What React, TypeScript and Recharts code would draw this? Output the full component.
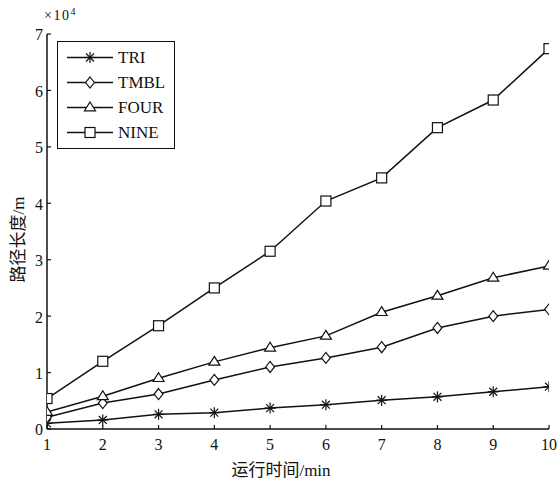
import React from 'react';
import { LineChart, Line, XAxis, YAxis, Legend } from 'recharts';

const times = [1, 2, 3, 4, 5, 6, 7, 8, 9, 10];
const tri = [1000, 1600, 2600, 2900, 3700, 4300, 5100, 5700, 6600, 7500];
const tmbl = [2100, 4600, 6200, 8700, 11000, 12600, 14500, 17900, 20000, 21200];
const four = [3000, 5800, 9000, 11900, 14400, 16500, 20700, 23600, 26800, 28900];
const nine = [5400, 12000, 18300, 25000, 31500, 40400, 44500, 53400, 58300, 67400];
const xTicks = [1, 2, 3, 4, 5, 6, 7, 8, 9, 10];
const yTicks = [0, 10000, 20000, 30000, 40000, 50000, 60000, 70000];
const yScaleLabel = '×10';
const yScaleExp = '4';

const data = times.map((t, i) => ({ t, TRI: tri[i], TMBL: tmbl[i], FOUR: four[i], NINE: nine[i] }));

const SERIF = '"Liberation Serif", "Times New Roman", serif';
const CJK = '"Liberation Serif", "Noto Sans CJK SC", serif';
const INK = '#111';
const X_MARGIN = 10;
const Y_MARGIN = 4;
const TICK_LEN = 4;

type MarkerKind = 'star' | 'diamond' | 'triangle' | 'square';

function Marker({ kind, cx, cy }: { kind: MarkerKind; cx: number; cy: number }) {
  const common = { stroke: INK, strokeWidth: 1.2, fill: 'none' };
  if (kind === 'star') {
    const r = 5.5;
    const d = r * 0.72;
    return (
      <g {...common}>
        <line x1={cx - r} y1={cy} x2={cx + r} y2={cy} />
        <line x1={cx} y1={cy - r} x2={cx} y2={cy + r} />
        <line x1={cx - d} y1={cy - d} x2={cx + d} y2={cy + d} />
        <line x1={cx - d} y1={cy + d} x2={cx + d} y2={cy - d} />
      </g>
    );
  }
  if (kind === 'diamond') {
    const r = 5.5;
    return <polygon {...common} fill="#fff" points={`${cx},${cy - r} ${cx + r * 0.8},${cy} ${cx},${cy + r} ${cx - r * 0.8},${cy}`} />;
  }
  if (kind === 'triangle') {
    const r = 5.5;
    return <polygon {...common} fill="#fff" points={`${cx},${cy - r} ${cx + r},${cy + r * 0.6} ${cx - r},${cy + r * 0.6}`} />;
  }
  const s = 5;
  return <rect {...common} fill="#fff" x={cx - s} y={cy - s} width={2 * s} height={2 * s} />;
}

const makeDot = (kind: MarkerKind) => (props: any) => {
  const { cx, cy, index } = props;
  if (cx == null || cy == null) return <g key={`${kind}-${index}`} />;
  return (
    <g key={`${kind}-${index}`}>
      <Marker kind={kind} cx={cx} cy={cy} />
    </g>
  );
};

const series: { key: string; kind: MarkerKind }[] = [
  { key: 'TRI', kind: 'star' },
  { key: 'TMBL', kind: 'diamond' },
  { key: 'FOUR', kind: 'triangle' },
  { key: 'NINE', kind: 'square' },
];

function XTick(props: any) {
  const { x, y, payload } = props;
  const axisY = y - X_MARGIN;
  return (
    <g>
      <line x1={x} x2={x} y1={axisY} y2={axisY - TICK_LEN} stroke={INK} strokeWidth={1.2} />
      <text x={x} y={y} dy="0.71em" textAnchor="middle" fontFamily={SERIF} fontSize={16} fill={INK}>
        {payload.value}
      </text>
    </g>
  );
}

function YTick(props: any) {
  const { x, y, payload, index } = props;
  const axisX = x + Y_MARGIN;
  const isTop = payload.value === yTicks[yTicks.length - 1];
  return (
    <g>
      <line x1={axisX} x2={axisX + TICK_LEN} y1={y} y2={y} stroke={INK} strokeWidth={1.2} />
      <text x={x} y={y} dy="0.4em" textAnchor="end" fontFamily={SERIF} fontSize={16} fill={INK}>
        {String(payload.value / 10000)}
      </text>
      {isTop ? (
        <text key={`s${index}`} x={axisX - 3} y={y - 14} fontFamily={SERIF} fontSize={14} letterSpacing={1.5} fill={INK}>
          {yScaleLabel}
          <tspan dy={-5} fontSize={10}>{yScaleExp}</tspan>
        </text>
      ) : null}
    </g>
  );
}

function LegendBox() {
  return (
    <div
      style={{
        width: 116,
        height: 103,
        border: `1.5px solid ${INK}`,
        background: '#fff',
        paddingTop: 3,
        boxSizing: 'content-box',
      }}
    >
      {series.map((s) => (
        <div key={s.key} style={{ display: 'flex', alignItems: 'center', height: 25 }}>
          <svg width={60} height={25} style={{ display: 'block' }}>
            <line x1={9} x2={55} y1={12.5} y2={12.5} stroke={INK} strokeWidth={1.5} />
            <Marker kind={s.kind} cx={32} cy={12.5} />
          </svg>
          <span style={{ fontFamily: SERIF, fontSize: 17, color: INK, marginLeft: 0, lineHeight: '25px' }}>{s.key}</span>
        </div>
      ))}
    </div>
  );
}

export default function App() {
  return (
    <div style={{ position: 'absolute', left: 0, top: 0, width: 558, height: 479, background: '#fff' }}>
      <LineChart width={558} height={479} data={data} margin={{ top: 34, right: 9, bottom: 20, left: 7 }}>
        <XAxis
          dataKey="t"
          type="number"
          domain={[1, 10]}
          ticks={xTicks}
          interval={0}
          allowDataOverflow
          height={30}
          tickSize={0}
          tickMargin={X_MARGIN}
          axisLine={{ stroke: INK, strokeWidth: 1.5 }}
          tickLine={false}
          tick={<XTick />}
          label={{
            content: (p: any) => {
              const vb = p.viewBox || {};
              return (
                <text x={vb.x + vb.width / 2 - 17} y={vb.y + 47} textAnchor="middle" fontFamily={CJK} fontSize={17} fill={INK}>
                  运行时间/min
                </text>
              );
            },
          }}
        />
        <XAxis
          xAxisId="top"
          dataKey="t"
          type="number"
          domain={[1, 10]}
          orientation="top"
          height={0}
          tick={false}
          tickLine={false}
          axisLine={{ stroke: INK, strokeWidth: 1.5 }}
        />
        <YAxis
          type="number"
          domain={[0, 70000]}
          ticks={yTicks}
          width={40}
          tickSize={0}
          tickMargin={Y_MARGIN}
          interval={0}
          axisLine={{ stroke: INK, strokeWidth: 1.5 }}
          tickLine={false}
          tick={<YTick />}
          label={{
            content: (p: any) => {
              const vb = p.viewBox || {};
              const cx = vb.x + 11;
              const cy = vb.y + vb.height / 2 + 8;
              return (
                <text x={cx} y={cy} transform={`rotate(-90 ${cx} ${cy})`} textAnchor="middle" dominantBaseline="central" fontFamily={CJK} fontSize={17} fill={INK}>
                  路径长度/m
                </text>
              );
            },
          }}
        />
        <YAxis
          yAxisId="right"
          orientation="right"
          type="number"
          domain={[0, 70000]}
          width={0}
          tick={false}
          tickLine={false}
          axisLine={{ stroke: INK, strokeWidth: 1.5 }}
        />
        <Legend
          layout="vertical"
          align="center"
          verticalAlign="middle"
          content={() => <LegendBox />}
          wrapperStyle={{ left: 57, top: 41, width: 'auto', height: 'auto' }}
        />
        {series.map((s) => (
          <Line
            key={s.key}
            dataKey={s.key}
            type="linear"
            stroke={INK}
            strokeWidth={1.5}
            dot={makeDot(s.kind)}
            activeDot={false}
            isAnimationActive={false}
          />
        ))}
      </LineChart>
    </div>
  );
}
